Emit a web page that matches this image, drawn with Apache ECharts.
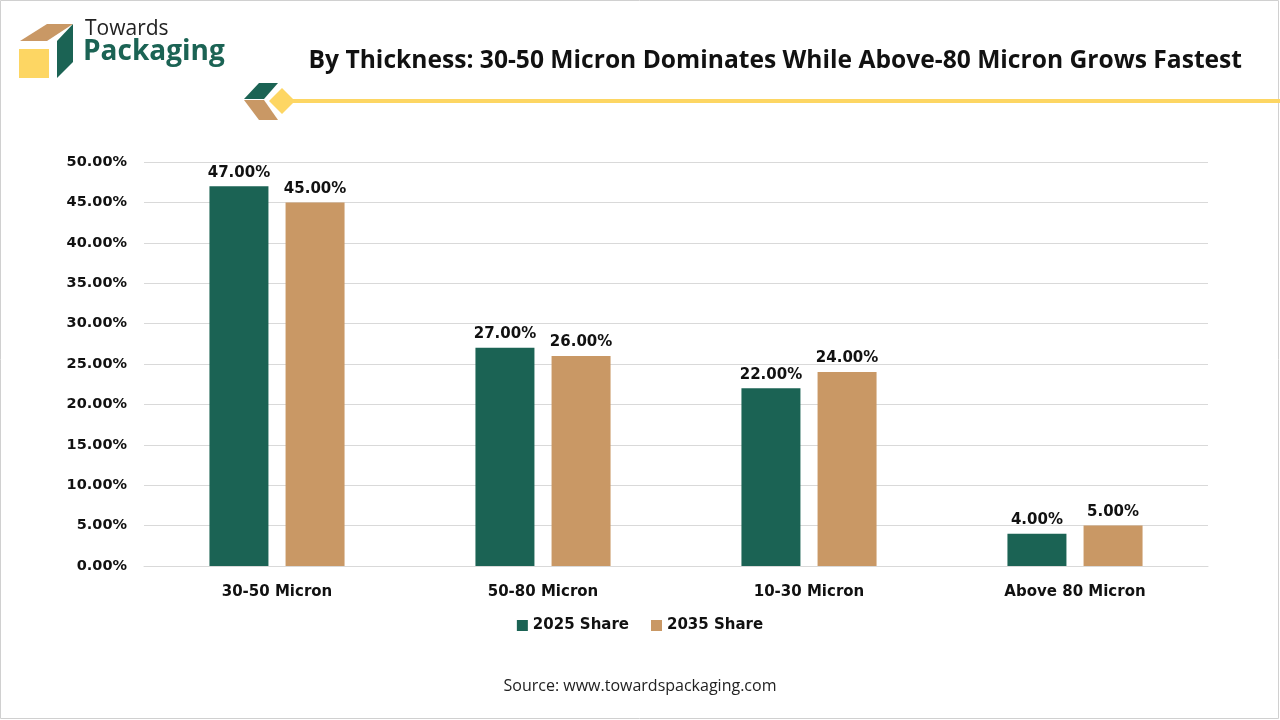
<!DOCTYPE html>
<html>
<head>
<meta charset="utf-8">
<script src="https://cdn.jsdelivr.net/npm/echarts@6/dist/echarts.min.js"></script>
<style>
  html, body { margin: 0; padding: 0; background: #fff; }
  #chart { width: 1280px; height: 720px; }
</style>
</head>
<body>
<div id="chart"></div>
<script>
// data
var categories = ['30-50 Micron', '50-80 Micron', '10-30 Micron', 'Above 80 Micron'];
var share2025 = [47, 27, 22, 4];
var share2035 = [45, 26, 24, 5];
var seriesNames = ['2025 Share', '2035 Share'];

var green = '#1b6354';
var tan = '#c99865';
var yellow = '#fdd663';
var labelFont = 'DejaVu Sans';

var myChart = echarts.init(document.getElementById('chart'));

var labelStyle = {
    show: true,
    position: 'top',
    distance: 6,
    color: '#111',
    fontFamily: labelFont,
    fontWeight: 'bold',
    fontSize: 15,
    formatter: function(p) { return p.value.toFixed(2) + '%'; }
};

var option = {
    animation: false,
    backgroundColor: '#fff',
    title: {
        text: 'By Thickness: 30-50 Micron Dominates While Above-80 Micron Grows Fastest',
        right: 33,
        top: 43,
        textStyle: {
            fontFamily: 'Open Sans',
            fontWeight: 'bold',
            fontSize: 24.6,
            color: '#111'
        }
    },
    legend: {
        data: seriesNames,
        bottom: 82,
        left: 'center',
        itemWidth: 11,
        itemHeight: 11,
        itemGap: 22,
        icon: 'rect',
        textStyle: {
            fontFamily: labelFont,
            fontWeight: 'bold',
            fontSize: 15,
            color: '#111'
        }
    },
    grid: {
        left: 144,
        right: 72,
        top: 162,
        bottom: 154
    },
    xAxis: {
        type: 'category',
        data: categories,
        axisLine: { lineStyle: { color: '#d9d9d9' } },
        axisTick: { show: false },
        axisLabel: {
            margin: 19,
            color: '#111',
            fontFamily: labelFont,
            fontWeight: 'bold',
            fontSize: 15
        }
    },
    yAxis: {
        type: 'value',
        min: 0,
        max: 50,
        interval: 5,
        axisLine: { show: false },
        axisTick: { show: false },
        splitLine: { lineStyle: { color: '#d9d9d9' } },
        axisLabel: {
            margin: 17,
            color: '#111',
            fontFamily: labelFont,
            fontWeight: 'bold',
            fontSize: 14.5,
            formatter: function(v) { return v.toFixed(2) + '%'; }
        }
    },
    series: [
        {
            name: seriesNames[0],
            type: 'bar',
            data: share2025,
            barWidth: 59,
            barGap: '29%',
            itemStyle: { color: green },
            label: labelStyle
        },
        {
            name: seriesNames[1],
            type: 'bar',
            data: share2035,
            barWidth: 59,
            itemStyle: { color: tan },
            label: labelStyle
        }
    ],
    graphic: [
        // frame
        {
            type: 'rect',
            shape: { x: 0.5, y: 0.5, width: 1278, height: 718 },
            style: { fill: 'none', stroke: '#d0d0d0', lineWidth: 1 }
        },
        // logo cube
        {
            type: 'polygon',
            shape: { points: [[20, 41], [47, 24], [73, 24], [47, 41]] },
            style: { fill: tan }
        },
        {
            type: 'polygon',
            shape: { points: [[57, 41], [73, 24], [73, 62], [57, 78]] },
            style: { fill: green }
        },
        {
            type: 'rect',
            shape: { x: 19, y: 49, width: 30, height: 29 },
            style: { fill: yellow }
        },
        {
            type: 'text',
            left: 85,
            top: 19,
            style: {
                text: 'Towards',
                font: '21px "Open Sans"',
                fill: '#222'
            }
        },
        {
            type: 'text',
            left: 83,
            top: 38,
            style: {
                text: 'Packaging',
                font: 'bold 28px "Open Sans"',
                fill: green
            }
        },
        // title decoration
        {
            type: 'rect',
            shape: { x: 290, y: 99, width: 990, height: 4 },
            style: { fill: yellow }
        },
        {
            type: 'polygon',
            shape: { points: [[259, 83], [278, 83], [264, 99], [244, 99]] },
            style: { fill: green }
        },
        {
            type: 'polygon',
            shape: { points: [[244, 100], [264, 100], [278, 120], [259, 120]] },
            style: { fill: tan }
        },
        {
            type: 'polygon',
            shape: { points: [[282, 88], [295, 101], [282, 114], [269, 101]] },
            style: { fill: yellow }
        },
        // source
        {
            type: 'text',
            left: 'center',
            top: 678,
            style: {
                text: 'Source: www.towardspackaging.com',
                font: '16px "Open Sans"',
                fill: '#222'
            }
        }
    ]
};

myChart.setOption(option);
</script>
</body>
</html>
